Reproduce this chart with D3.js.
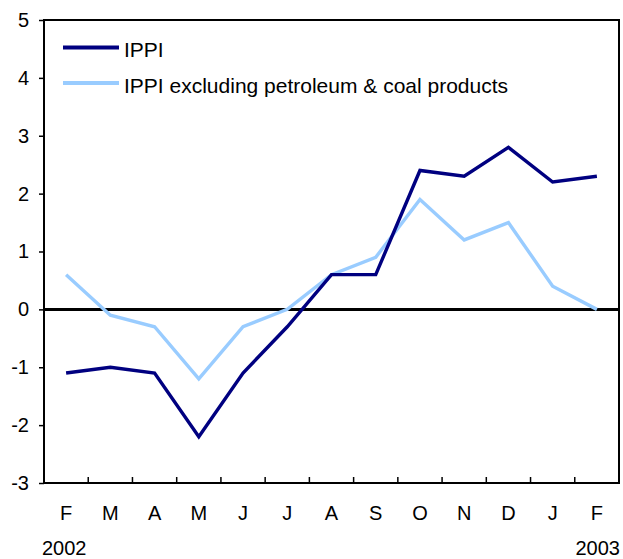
<!DOCTYPE html>
<html><head><meta charset="utf-8">
<script src="https://cdn.jsdelivr.net/npm/d3@7"></script>
<style>body{margin:0;background:#fff}svg{display:block}text{font-family:"Liberation Sans",Arial,sans-serif;fill:#000}</style>
</head><body><svg id="c" width="623" height="559"></svg>
<script>
const months = ["F","M","A","M","J","J","A","S","O","N","D","J","F"];
const ippi = [-1.1,-1.0,-1.1,-2.2,-1.1,-0.3,0.6,0.6,2.4,2.3,2.8,2.2,2.3];
const ippiExcl = [0.6,-0.1,-0.3,-1.2,-0.3,0.0,0.6,0.9,1.9,1.2,1.5,0.4,0.0];
const yTicks = [-3,-2,-1,0,1,2,3,4,5];
const seriesNames = ["IPPI","IPPI excluding petroleum & coal products"];
const colors = ["#000080","#99CCFF"];

const svg = d3.select("#c");
const L=44, R=619, T=20, B=483;
const x = d3.scaleBand().domain(d3.range(months.length)).range([L,R]);
const y = d3.scaleLinear().domain([-3,5]).range([B,T]);

// frame
svg.append("rect").attr("x",L).attr("y",T).attr("width",R-L).attr("height",B-T)
  .attr("fill","none").attr("stroke","#000").attr("stroke-width",2);

// y axis
const ya = svg.append("g").attr("transform",`translate(${L},0)`)
  .call(d3.axisLeft(y).tickValues(yTicks).tickSize(5).tickPadding(10).tickFormat(d=>String(d)));
ya.select(".domain").remove();
ya.selectAll("line").attr("stroke","#000").attr("stroke-width",1.5);
ya.selectAll("text").attr("font-size",20).attr("font-family","Liberation Sans, Arial, sans-serif");

// x ticks (between categories, inward)
const xb = d3.range(1,months.length).map(i=>x(i));
svg.append("g").selectAll("line").data(xb).join("line")
  .attr("x1",d=>d).attr("x2",d=>d).attr("y1",B).attr("y2",B-6)
  .attr("stroke","#000").attr("stroke-width",1.5);
svg.append("g").selectAll("text").data(months).join("text")
  .attr("x",(d,i)=>x(i)+x.bandwidth()/2).attr("y",520)
  .attr("text-anchor","middle").attr("font-size",20).text(d=>d);
svg.append("text").attr("x",42).attr("y",555).attr("font-size",20).text("2002");
svg.append("text").attr("x",620).attr("y",555).attr("text-anchor","end").attr("font-size",20).text("2003");

// zero line
svg.append("line").attr("x1",L).attr("x2",R).attr("y1",y(0)).attr("y2",y(0))
  .attr("stroke","#000").attr("stroke-width",3);

const line = d3.line().x((d,i)=>x(i)+x.bandwidth()/2).y(d=>y(d));
[ippiExcl, ippi].forEach((s,k)=>{
  const c = k===0?colors[1]:colors[0];
  svg.append("path").attr("d",line(s)).attr("fill","none").attr("stroke",c).attr("stroke-width",3.4).attr("stroke-linejoin","miter");
});

// legend
seriesNames.forEach((n,i)=>{
  const yy = 47.5 + i*35.5;
  svg.append("line").attr("x1",63).attr("x2",119).attr("y1",yy).attr("y2",yy)
    .attr("stroke",colors[i]).attr("stroke-width",4);
  svg.append("text").attr("x",124).attr("y",yy+9.5).attr("font-size",21).text(n);
});
</script></body></html>
